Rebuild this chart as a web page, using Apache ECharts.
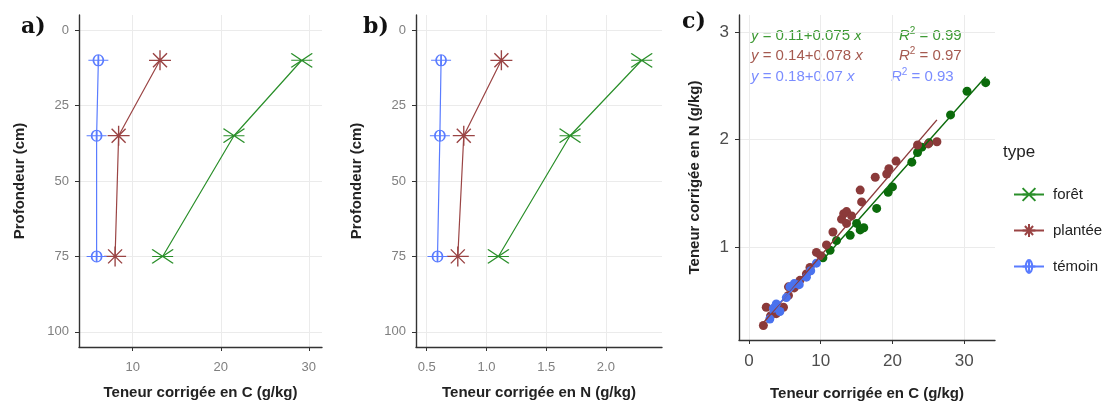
<!DOCTYPE html>
<html><head><meta charset="utf-8">
<script src="https://cdn.jsdelivr.net/npm/echarts@6/dist/echarts.min.js"></script>
<style>html,body{margin:0;padding:0;background:#fff}#c{width:1120px;height:407px}</style>
</head><body><div id="c"></div>
<script>
// ---------- data ----------
const typeNames = ['forêt', 'plantée', 'témoin'];
const depth = [10, 35, 75];
// panel a: C content by depth
const foretC = [29.2, 21.5, 13.4];
const planteeC = [13.1, 8.4, 8.0];
const temoinC = [6.1, 5.9, 5.9];
// panel b: N content by depth
const foretN = [2.30, 1.70, 1.10];
const planteeN = [1.125, 0.81, 0.76];
const temoinN = [0.62, 0.61, 0.59];
// panel c: samples C vs N
const foretSampC = [10.3, 11.3, 12.2, 14.1, 15.0, 15.5, 16.0, 17.8, 19.4, 20.0, 22.7, 23.5, 24.1, 25.1, 28.1, 30.4, 33.0];
const foretSampN = [0.90, 0.97, 1.06, 1.11, 1.22, 1.16, 1.18, 1.36, 1.51, 1.56, 1.79, 1.88, 1.93, 1.97, 2.23, 2.45, 2.53];
const planteeSampC = [2.0, 2.4, 3.0, 3.8, 4.8, 5.5, 5.5, 6.3, 7.1, 8.0, 8.5, 9.4, 10.0, 10.8, 11.7, 12.9, 13.2, 13.6, 14.3, 13.6, 15.5, 15.7, 17.6, 19.2, 19.5, 20.5, 23.5, 25.0, 26.2];
const planteeSampN = [0.27, 0.44, 0.36, 0.38, 0.44, 0.55, 0.63, 0.62, 0.69, 0.75, 0.81, 0.95, 0.92, 1.02, 1.14, 1.26, 1.31, 1.33, 1.29, 1.22, 1.53, 1.42, 1.65, 1.68, 1.73, 1.80, 1.95, 1.96, 1.98];
const temoinSampC = [2.9, 3.4, 4.3, 3.8, 5.2, 5.7, 6.3, 7.0, 8.0, 8.6, 9.4];
const temoinSampN = [0.33, 0.43, 0.40, 0.47, 0.53, 0.63, 0.66, 0.65, 0.72, 0.78, 0.85];
// fits shown in panel c
const fitIntercept = [0.11, 0.14, 0.18];
const fitSlope = [0.075, 0.078, 0.07];
const fitR2 = [0.99, 0.97, 0.93];
// tick labels
const depthTicks = [0, 25, 50, 75, 100];
const cTicks = [10, 20, 30];
const nTicks = [0.5, 1.0, 1.5, 2.0];
const scatterXTicks = [0, 10, 20, 30];
const scatterYTicks = [1, 2, 3];

// ---------- styles ----------
const lineCols = ['#2a8f2a', '#9a4444', '#5a7cff'];
const ptCols = ['#0b6b0b', '#8b3a3a', '#4a72ee'];
const textCols = ['#3f9a35', '#a55a50', '#7a8cff'];
const symbols = [
  'path://M0,0L20,14M20,0L0,14M0,7L20,7',
  'path://M0,10L22,10M11,0L11,20M4,3L18,17M18,3L4,17',
  'path://M5,5a5,5 0 1,0 10,0a5,5 0 1,0 -10,0M10,0L10,10M0,5L20,5'
];
const symSizes = [[21, 14], [22, 20], [20, 11]];

const chart = echarts.init(document.getElementById('c'), null, {renderer: 'canvas'});
const font = 'Liberation Sans, Arial, sans-serif';
const gridLine = {show: true, lineStyle: {color: '#ebebeb', width: 1}};
const axLine = {show: true, onZero: false, lineStyle: {color: '#333', width: 1.4}};
function tick(vals) { return {show: true, length: 4, lineStyle: {color: '#333'}, customValues: vals}; }
function lab(vals, size, color, margin, fmt) {
  return {show: true, customValues: vals, fontSize: size, color: color, fontFamily: font, margin: margin,
    formatter: fmt || (v => String(v))};
}
const titleStyle = {fontSize: 15, fontWeight: 'bold', color: '#222', fontFamily: font};

const grids = [
  {left: 79, top: 15, width: 243, height: 332},
  {left: 416, top: 15, width: 246, height: 332},
  {left: 739, top: 15, width: 256, height: 325}
];

const xAxes = [
  {gridIndex: 0, type: 'value', min: 3.9, max: 31.5, axisLine: axLine, axisTick: tick(cTicks),
   axisLabel: lab(cTicks, 13, '#7f7f7f', 14), splitLine: gridLine,
   name: 'Teneur corrigée en C (g/kg)', nameLocation: 'middle', nameGap: 38, nameTextStyle: titleStyle},
  {gridIndex: 1, type: 'value', min: 0.41, max: 2.47, axisLine: axLine, axisTick: tick(nTicks),
   axisLabel: lab(nTicks, 13, '#7f7f7f', 14, v => v.toFixed(1)), splitLine: gridLine,
   name: 'Teneur corrigée en N (g/kg)', nameLocation: 'middle', nameGap: 38, nameTextStyle: titleStyle},
  {gridIndex: 2, type: 'value', min: -1.4, max: 34.3, axisLine: axLine, axisTick: tick(scatterXTicks),
   axisLabel: lab(scatterXTicks, 17, '#4d4d4d', 13), splitLine: gridLine,
   name: 'Teneur corrigée en C (g/kg)', nameLocation: 'middle', nameGap: 46, nameTextStyle: titleStyle}
];
const yAxes = [
  {gridIndex: 0, type: 'value', inverse: true, min: -5, max: 105, axisLine: axLine, axisTick: tick(depthTicks),
   axisLabel: lab(depthTicks, 13, '#7f7f7f', 10), splitLine: gridLine,
   name: 'Profondeur (cm)', nameLocation: 'middle', nameGap: 52, nameTextStyle: titleStyle},
  {gridIndex: 1, type: 'value', inverse: true, min: -5, max: 105, axisLine: axLine, axisTick: tick(depthTicks),
   axisLabel: lab(depthTicks, 13, '#7f7f7f', 10), splitLine: gridLine,
   name: 'Profondeur (cm)', nameLocation: 'middle', nameGap: 52, nameTextStyle: titleStyle},
  {gridIndex: 2, type: 'value', min: 0.135, max: 3.16, axisLine: axLine, axisTick: tick(scatterYTicks),
   axisLabel: lab(scatterYTicks, 17, '#4d4d4d', 10), splitLine: gridLine,
   name: 'Teneur corrigée en N (g/kg)', nameLocation: 'middle', nameGap: 37, nameTextStyle: titleStyle}
];

const series = [];
const panelData = [[foretC, planteeC, temoinC], [foretN, planteeN, temoinN]];
panelData.forEach((set, p) => {
  set.forEach((vals, k) => {
    series.push({
      name: typeNames[k], type: 'line', xAxisIndex: p, yAxisIndex: p,
      data: vals.map((v, i) => [v, depth[i]]),
      symbol: symbols[k], symbolSize: symSizes[k], showSymbol: true,
      lineStyle: {color: lineCols[k], width: 1.2},
      itemStyle: {color: 'rgba(0,0,0,0)', borderColor: lineCols[k], borderWidth: 1.3},
      emphasis: {disabled: true}, z: 3 + k
    });
  });
});
const sampC = [foretSampC, planteeSampC, temoinSampC];
const sampN = [foretSampN, planteeSampN, temoinSampN];
[0, 1, 2].forEach(k => {
  series.push({
    name: typeNames[k] + '_pts', type: 'scatter', xAxisIndex: 2, yAxisIndex: 2,
    data: sampC[k].map((c, i) => [c, sampN[k][i]]),
    symbol: 'circle', symbolSize: 9, itemStyle: {color: ptCols[k], opacity: 1},
    emphasis: {disabled: true}, z: 3 + k
  });
  const xmin = Math.min(...sampC[k]), xmax = Math.max(...sampC[k]);
  series.push({
    name: typeNames[k] + '_fit', type: 'line', xAxisIndex: 2, yAxisIndex: 2,
    data: [[xmin, fitIntercept[k] + fitSlope[k] * xmin], [xmax, fitIntercept[k] + fitSlope[k] * xmax]],
    showSymbol: false, symbol: 'none', lineStyle: {color: ptCols[k], width: 1.4},
    emphasis: {disabled: true}, z: 6 + k
  });
});

const eqY = [36, 56, 77];
const graphics = [
  {type: 'text', left: 21, top: 16, style: {text: 'a)', fontSize: 22, fontWeight: 'bold', fontFamily: 'DejaVu Serif, serif', fill: '#111'}},
  {type: 'text', left: 363, top: 16, style: {text: 'b)', fontSize: 22, fontWeight: 'bold', fontFamily: 'DejaVu Serif, serif', fill: '#111'}},
  {type: 'text', left: 682, top: 11, style: {text: 'c)', fontSize: 22, fontWeight: 'bold', fontFamily: 'DejaVu Serif, serif', fill: '#111'}},
  {type: 'text', left: 1003, top: 144, style: {text: 'type', fontSize: 17, fontFamily: font, fill: '#222'}}
];
const eqTxtX = [751, 751, 751];
const r2X = [899, 899, 891];
[0, 1, 2].forEach(k => {
  const rs = {i: {fontStyle: 'italic', fontSize: 15, fontFamily: font, fill: textCols[k]},
              s: {fontSize: 10, fontFamily: font, fill: textCols[k], verticalAlign: 'top', padding: [0, 0, 9, 0]}};
  graphics.push({type: 'text', x: eqTxtX[k], y: eqY[k], style: {
    text: '{i|y} = ' + fitIntercept[k] + '+' + fitSlope[k] + ' {i|x}',
    rich: rs, fontSize: 15, fontFamily: font, fill: textCols[k], verticalAlign: 'middle'}});
  graphics.push({type: 'text', x: r2X[k], y: eqY[k], style: {
    text: '{i|R}{s|2} = ' + fitR2[k].toFixed(2),
    rich: rs, fontSize: 15, fontFamily: font, fill: textCols[k], verticalAlign: 'middle'}});
});

chart.setOption({
  animation: false,
  backgroundColor: '#fff',
  grid: grids,
  xAxis: xAxes,
  yAxis: yAxes,
  series: series,
  legend: {
    data: typeNames, orient: 'vertical', left: 1008, top: 182, itemGap: 21,
    itemWidth: 30, itemHeight: 16, selectedMode: false,
    textStyle: {fontSize: 15, color: '#222', fontFamily: font, padding: [0, 0, 0, 4]}
  },
  graphic: graphics
});
</script></body></html>
